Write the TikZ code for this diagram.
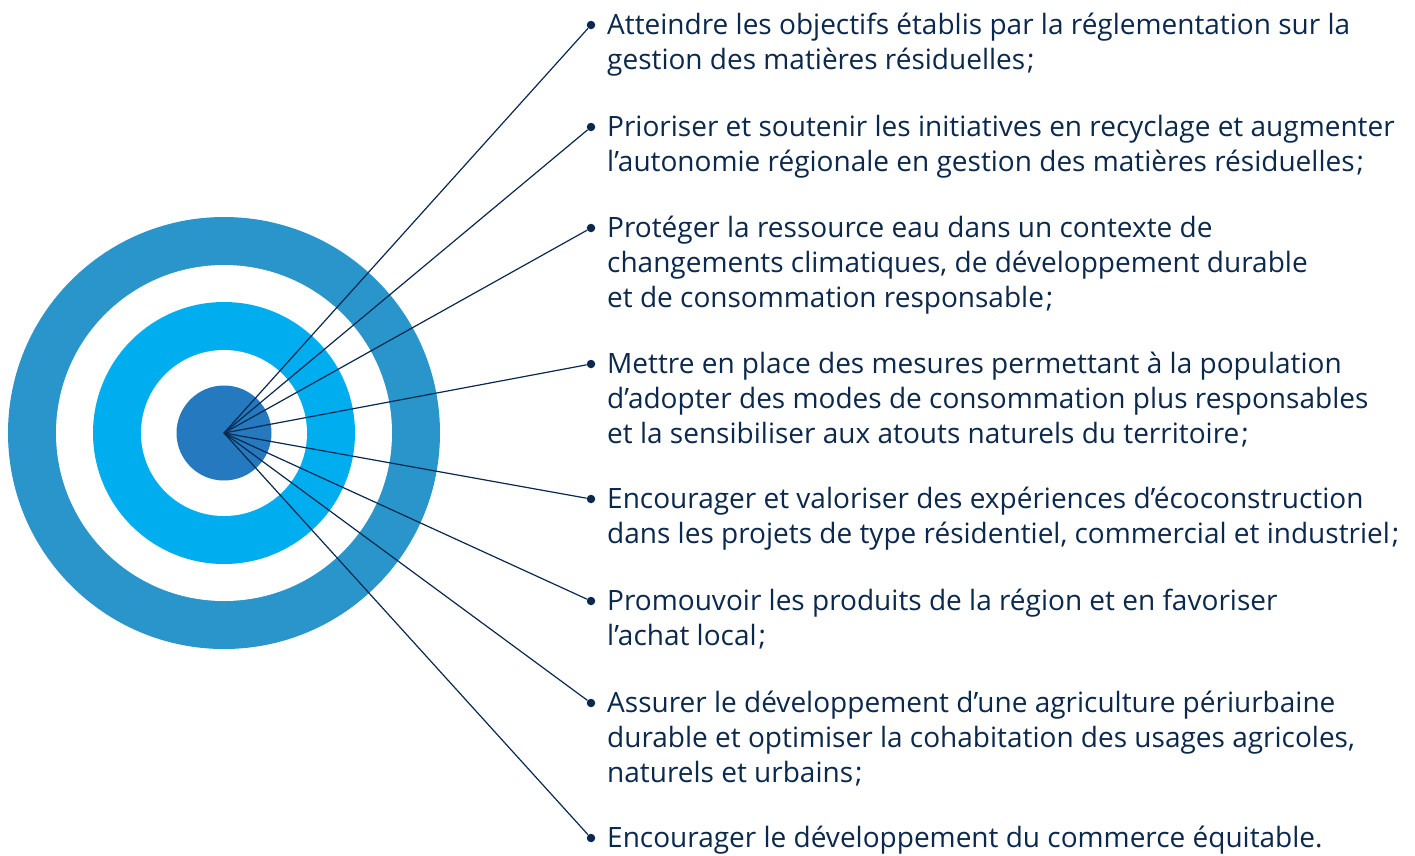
\documentclass[tikz,border=0pt]{standalone}
\usepackage{fontspec}
\setmainfont{Open Sans}
\usepackage{tikz}
\pgfdeclarelayer{ringlayer}
\pgfdeclarelayer{edgelayer}
\pgfdeclarelayer{nodelayer}
\pgfsetlayers{ringlayer,edgelayer,nodelayer,main}
\definecolor{outer_blue}{RGB}{42,149,203}
\definecolor{light_blue}{RGB}{0,174,239}
\definecolor{core_blue}{RGB}{36,121,191}
\definecolor{navy}{RGB}{11,40,77}
\tikzstyle{none}=[inner sep=0pt]
\tikzstyle{ring_disc}=[shape=circle, inner sep=0pt, draw=none]
\tikzstyle{bullet_point}=[fill=navy, draw=none, shape=circle, inner sep=0pt, minimum size=8.5pt]
\tikzstyle{goal_text}=[inner sep=0pt, anchor=base west, align=left, text=navy, font=\fontsize{28}{35}\selectfont]
\tikzstyle{main_connector}=[-, draw=navy, line width=1.2pt]

\begin{document}
\begin{tikzpicture}[x=1pt, y=-1pt]
    \useasboundingbox (0, 0) rectangle (1415, 855);
    \begin{pgfonlayer}{ringlayer}
        % target
        \node [style={ring_disc}, fill=outer_blue, minimum size=432pt] (1) at (224, 433) {};
        \node [style={ring_disc}, fill=white, minimum size=336pt] (2) at (224, 433) {};
        \node [style={ring_disc}, fill=light_blue, minimum size=262pt] (3) at (224, 433) {};
        \node [style={ring_disc}, fill=white, minimum size=166pt] (4) at (224, 433) {};
        \node [style={ring_disc}, fill=core_blue, minimum size=95pt] (5) at (224, 433) {};
    \end{pgfonlayer}
    \begin{pgfonlayer}{nodelayer}
        % centre of the target
        \node [style=none] (0) at (224, 433) {};

        % bullets
        \node [style={bullet_point}] (10) at (591, 25) {};
        \node [style={bullet_point}] (11) at (591, 127) {};
        \node [style={bullet_point}] (12) at (591, 228) {};
        \node [style={bullet_point}] (13) at (591, 364) {};
        \node [style={bullet_point}] (14) at (591, 499) {};
        \node [style={bullet_point}] (15) at (591, 601) {};
        \node [style={bullet_point}] (16) at (591, 703) {};
        \node [style={bullet_point}] (17) at (591, 838) {};

        % goals (anchored on the baseline of their last line)
        \node [style={goal_text}] (20) at (607, 69) {Atteindre les objectifs établis par la réglementation sur la\\gestion des matières résiduelles\kern2pt;};
        \node [style={goal_text}] (21) at (607, 171) {Prioriser et soutenir les initiatives en recyclage et augmenter\\l’autonomie régionale en gestion des matières résiduelles\kern2pt;};
        \node [style={goal_text}] (22) at (607, 307) {Protéger la ressource eau dans un contexte de\\changements climatiques, de développement durable\\et de consommation responsable\kern2pt;};
        \node [style={goal_text}] (23) at (607, 443) {Mettre en place des mesures permettant à la population\\d’adopter des modes de consommation plus responsables\\et la sensibiliser aux atouts naturels du territoire\kern2pt;};
        \node [style={goal_text}] (24) at (607, 543) {Encourager et valoriser des expériences d’écoconstruction\\dans les projets de type résidentiel, commercial et industriel\kern2pt;};
        \node [style={goal_text}] (25) at (607, 645) {Promouvoir les produits de la région et en favoriser\\l’achat local\kern2pt;};
        \node [style={goal_text}] (26) at (607, 782) {Assurer le développement d’une agriculture périurbaine\\durable et optimiser la cohabitation des usages agricoles,\\naturels et urbains\kern2pt;};
        \node [style={goal_text}] (27) at (607, 847) {Encourager le développement du commerce équitable.};
    \end{pgfonlayer}
    \begin{pgfonlayer}{edgelayer}
        \draw [style={main_connector}] (0.center) to (10);
        \draw [style={main_connector}] (0.center) to (11);
        \draw [style={main_connector}] (0.center) to (12);
        \draw [style={main_connector}] (0.center) to (13);
        \draw [style={main_connector}] (0.center) to (14);
        \draw [style={main_connector}] (0.center) to (15);
        \draw [style={main_connector}] (0.center) to (16);
        \draw [style={main_connector}] (0.center) to (17);
    \end{pgfonlayer}
\end{tikzpicture}
\end{document}
